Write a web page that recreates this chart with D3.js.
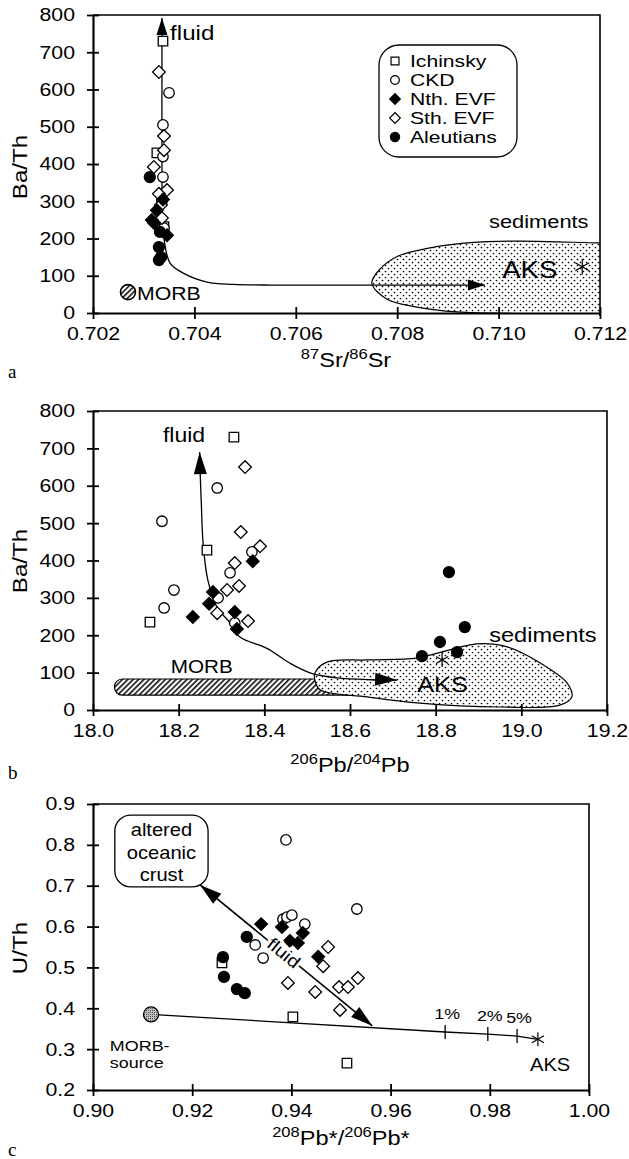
<!DOCTYPE html>
<html>
<head>
<meta charset="utf-8">
<script src="https://cdn.jsdelivr.net/npm/d3@7"></script>
<style>
  body { margin: 0; background: #fff; }
  svg text { font-family: "Liberation Sans", Arial, Helvetica, sans-serif; fill: #000; }
</style>
</head>
<body>
<svg id="chart"></svg>
<script>
// ---- panel a : Ba/Th vs 87Sr/86Sr ----
let aIchinsky = [[0.70338, 730], [0.70326, 430], [0.70340, 232]];
let aCKD = [[0.70350, 591], [0.70338, 505], [0.70338, 420], [0.70338, 365], [0.70336, 300], [0.70340, 228]];
let aSthEVF = [[0.70330, 647], [0.70340, 475], [0.70340, 437], [0.70320, 392], [0.70346, 330], [0.70330, 320], [0.70336, 255], [0.70334, 290]];
let aNthEVF = [[0.70316, 250], [0.70326, 276], [0.70346, 209], [0.70338, 305], [0.70320, 242]];
let aAleutians = [[0.70312, 365], [0.70330, 177], [0.70330, 142], [0.70334, 150], [0.70332, 218]];
let aMorb = [0.70269, 56];
let aAks = [0.71165, 124];
let aFluidCurve = [[0.70336, 792], [0.70336, 600], [0.70336, 400], [0.70337, 260], [0.70340, 200], [0.70352, 134],
    [0.70378, 107], [0.70425, 83], [0.70476, 77], [0.7055, 75], [0.7070, 75], [0.70973, 75]];
let aSediments = [[0.70750, 80], [0.70766, 118], [0.70802, 153], [0.70865, 175], [0.70944, 189], [0.71042, 193],
    [0.71200, 188], [0.71280, 186], [0.71280, -5], [0.71200, -3], [0.70918, 3], [0.70839, 16], [0.70780, 37]];
let aXTicks = [0.702, 0.704, 0.706, 0.708, 0.710, 0.712];
let aYTicks = [0, 100, 200, 300, 400, 500, 600, 700, 800];

// ---- panel b : Ba/Th vs 206Pb/204Pb ----
let bIchinsky = [[18.329, 730], [18.266, 428], [18.133, 235]];
let bCKD = [[18.161, 505], [18.290, 594], [18.189, 321], [18.166, 273], [18.320, 367], [18.292, 300], [18.331, 233], [18.371, 423]];
let bSthEVF = [[18.355, 650], [18.345, 476], [18.390, 438], [18.331, 393], [18.313, 321], [18.341, 332], [18.290, 259], [18.362, 238]];
let bNthEVF = [[18.233, 249], [18.280, 316], [18.271, 284], [18.331, 262], [18.336, 217], [18.373, 398]];
let bAleutians = [[18.831, 369], [18.868, 222], [18.810, 182], [18.768, 144], [18.850, 155]];
let bAks = [18.815, 134];
let bMorbBar = [[18.05, 40], [18.62, 83]];
let bFluidCurve = [[18.249, 690], [18.250, 640], [18.253, 550], [18.257, 447], [18.268, 348], [18.289, 276], [18.320, 233],
    [18.343, 195], [18.406, 165], [18.460, 125], [18.510, 98], [18.570, 86], [18.650, 81], [18.710, 80]];
let bSediments = [[18.518, 99], [18.546, 128], [18.640, 134], [18.756, 139], [18.833, 161], [18.896, 177], [18.967, 169],
    [19.044, 126], [19.107, 72], [19.118, 35], [19.090, 13], [18.950, 8], [18.756, 19], [18.640, 35], [18.530, 54], [18.518, 80]];
let bXTicks = [18.0, 18.2, 18.4, 18.6, 18.8, 19.0, 19.2];
let bYTicks = [0, 100, 200, 300, 400, 500, 600, 700, 800];

// ---- panel c : U/Th vs 208Pb*/206Pb* ----
let cIchinsky = [[0.9403, 0.379], [0.9512, 0.266], [0.9260, 0.511]];
let cCKD = [[0.9389, 0.812], [0.9532, 0.643], [0.9383, 0.618], [0.9391, 0.623], [0.9401, 0.628], [0.9427, 0.606], [0.9327, 0.555], [0.9343, 0.523]];
let cSthEVF = [[0.9474, 0.550], [0.9464, 0.503], [0.9393, 0.462], [0.9448, 0.440], [0.9496, 0.452], [0.9514, 0.452], [0.9534, 0.474], [0.9498, 0.396]];
let cNthEVF = [[0.9339, 0.606], [0.9381, 0.599], [0.9397, 0.565], [0.9413, 0.560], [0.9423, 0.584], [0.9454, 0.526]];
let cAleutians = [[0.9262, 0.525], [0.9264, 0.477], [0.9290, 0.447], [0.9306, 0.437], [0.9310, 0.575]];
let cMorbSource = [0.9117, 0.385];
let cMixLine = [[0.9117, 0.385], [0.9710, 0.342], [0.9796, 0.337], [0.9855, 0.332], [0.9897, 0.324]];
let cMixTicks = [[0.9710, 0.342], [0.9796, 0.337], [0.9855, 0.332]];
let cMixLabels = ["1%", "2%", "5%"];
let cAks = [0.9897, 0.324];
let cFluidArrow = [[0.9216, 0.702], [0.9563, 0.357]];
let cCrustBox = [[0.9044, 0.873], [0.9232, 0.697]];
let cXTicks = [0.90, 0.92, 0.94, 0.96, 0.98, 1.00];
let cYTicks = [0.2, 0.3, 0.4, 0.5, 0.6, 0.7, 0.8, 0.9];

let legendNames = ["Ichinsky", "CKD", "Nth. EVF", "Sth. EVF", "Aleutians"];
let legendKeys = ["ichinsky", "ckd", "nth", "sth", "aleut"];

const SX = 1.15; // the scanned lettering is wide

let svg = d3.select("#chart").attr("width", 629).attr("height", 1159);
svg.append("rect").attr("width", 629).attr("height", 1159).attr("fill", "#fff");
let defs = svg.append("defs");

let dots = defs.append("pattern").attr("id", "dots").attr("patternUnits", "userSpaceOnUse")
    .attr("width", 6).attr("height", 6);
dots.append("rect").attr("width", 6).attr("height", 6).attr("fill", "#fff");
dots.append("circle").attr("cx", 1.5).attr("cy", 1.5).attr("r", 0.85).attr("fill", "#000");
dots.append("circle").attr("cx", 4.5).attr("cy", 4.5).attr("r", 0.85).attr("fill", "#000");

let hatch = defs.append("pattern").attr("id", "hatch").attr("patternUnits", "userSpaceOnUse")
    .attr("width", 3.8).attr("height", 3.8).attr("patternTransform", "rotate(45)");
hatch.append("rect").attr("width", 3.8).attr("height", 3.8).attr("fill", "#fff");
hatch.append("line").attr("x1", 0.8).attr("y1", 0).attr("x2", 0.8).attr("y2", 3.8)
    .attr("stroke", "#000").attr("stroke-width", 1.5);

let grain = defs.append("pattern").attr("id", "grain").attr("patternUnits", "userSpaceOnUse")
    .attr("width", 2).attr("height", 2);
grain.append("rect").attr("width", 2).attr("height", 2).attr("fill", "#bbb");
grain.append("rect").attr("width", 1).attr("height", 1).attr("fill", "#555");

const SYM = {
    ichinsky: {type: d3.symbolSquare, size: 90, fill: "#fff", rot: 0},
    ckd: {type: d3.symbolCircle, size: 86, fill: "#fff", rot: 0},
    nth: {type: d3.symbolSquare, size: 80, fill: "#000", rot: 45},
    sth: {type: d3.symbolSquare, size: 80, fill: "#fff", rot: 45},
    aleut: {type: d3.symbolCircle, size: 95, fill: "#000", rot: 0},
};

function txt(g, x, y, s, size, anchor, rot, sx) {
    return g.append("text")
        .attr("transform", `translate(${x},${y})` + (rot ? ` rotate(${rot})` : "") + ` scale(${sx || SX},1)`)
        .attr("font-size", size)
        .attr("text-anchor", anchor || "start")
        .text(s);
}

// parts: [string, isSuperscript]
function supTxt(g, x, y, parts, size, anchor, rot) {
    let t = g.append("text")
        .attr("transform", `translate(${x},${y})` + (rot ? ` rotate(${rot})` : "") + ` scale(${SX},1)`)
        .attr("font-size", size)
        .attr("text-anchor", anchor || "middle");
    let up = false;
    parts.forEach(p => {
        let sp = t.append("tspan").text(p[0]);
        if (p[1] && !up) { sp.attr("font-size", size * 0.7).attr("dy", -size * 0.38); up = true; }
        else if (p[1]) { sp.attr("font-size", size * 0.7); }
        else if (up) { sp.attr("dy", size * 0.38); up = false; }
    });
    return t;
}

function makePanel(id, xDomain, xRange, yDomain, yRange) {
    let x = d3.scaleLinear().domain(xDomain).range(xRange);
    let y = d3.scaleLinear().domain(yDomain).range(yRange);
    defs.append("clipPath").attr("id", id + "-clip").append("rect")
        .attr("x", xRange[0]).attr("y", yRange[1])
        .attr("width", xRange[1] - xRange[0]).attr("height", yRange[0] - yRange[1]);
    let g = svg.append("g").attr("id", id);
    return {x: x, y: y, g: g, clip: `url(#${id}-clip)`};
}

function drawAxes(p, xTicks, xFmt, yTicks, yFmt) {
    let x0 = p.x.range()[0], x1 = p.x.range()[1];
    let y0 = p.y.range()[0], y1 = p.y.range()[1];

    p.g.append("path").attr("d", `M${x0},${y1}H${x1}V${y0 + 3}`)
        .attr("fill", "none").attr("stroke", "#000").attr("stroke-width", 1.6);

    let xAxis = p.g.append("g").attr("transform", `translate(0,${y0})`)
        .call(d3.axisBottom(p.x).tickValues(xTicks).tickFormat(d3.format(xFmt))
            .tickSizeOuter(0).tickSizeInner(6).tickPadding(8));
    let yAxis = p.g.append("g").attr("transform", `translate(${x0},0)`)
        .call(d3.axisLeft(p.y).tickValues(yTicks).tickFormat(d3.format(yFmt))
            .tickSizeOuter(0).tickSizeInner(6).tickPadding(12));

    [xAxis, yAxis].forEach(a => {
        a.attr("font-size", 18.5).attr("font-family", null);
        a.select(".domain").attr("stroke-width", 2.2);
        a.selectAll(".tick line").attr("stroke-width", 1.8);
    });
    xAxis.selectAll(".tick line").attr("y1", -6).attr("y2", 6);
    xAxis.selectAll(".tick text").attr("transform", `scale(${SX},1)`);
    yAxis.selectAll(".tick line").attr("x1", 6).attr("x2", -6);
    yAxis.selectAll(".tick text").attr("x", -18 / SX).attr("transform", `scale(${SX},1)`);
}

function drawSeries(p, pts, key) {
    let s = SYM[key];
    p.g.append("g").selectAll("path").data(pts).join("path")
        .attr("d", d3.symbol().type(s.type).size(s.size))
        .attr("transform", d => `translate(${p.x(d[0])},${p.y(d[1])}) rotate(${s.rot})`)
        .attr("fill", s.fill).attr("stroke", "#000").attr("stroke-width", 1.3);
}

function arrowHead(g, tip, from, len, half) {
    let dx = tip[0] - from[0], dy = tip[1] - from[1];
    let d = Math.hypot(dx, dy), ux = dx / d, uy = dy / d;
    let bx = tip[0] - ux * len, by = tip[1] - uy * len;
    g.append("path")
        .attr("d", `M${tip[0]},${tip[1]}L${bx - uy * half},${by + ux * half}L${bx + uy * half},${by - ux * half}Z`)
        .attr("fill", "#000");
}

function asterisk(g, cx, cy, r) {
    [90, 30, 150].forEach(a => {
        let rad = a * Math.PI / 180;
        g.append("line")
            .attr("x1", cx - r * Math.cos(rad)).attr("y1", cy - r * Math.sin(rad))
            .attr("x2", cx + r * Math.cos(rad)).attr("y2", cy + r * Math.sin(rad))
            .attr("stroke", "#000").attr("stroke-width", 1.2);
    });
}

function curveArrow(p, pts, headAtStart, headAtEnd, len, half) {
    let px = pts.map(d => [p.x(d[0]), p.y(d[1])]);
    p.g.append("path").attr("d", d3.line().curve(d3.curveCatmullRom)(px))
        .attr("fill", "none").attr("stroke", "#000").attr("stroke-width", 1.3);
    if (headAtStart) arrowHead(p.g, px[0], px[2] || px[1], len, half);
    if (headAtEnd) arrowHead(p.g, px[px.length - 1], px[px.length - 3] || px[px.length - 2], len, half);
}

function allSeries(p, ich, ckd, sth, nth, ale) {
    drawSeries(p, ich, "ichinsky");
    drawSeries(p, ckd, "ckd");
    drawSeries(p, sth, "sth");
    drawSeries(p, nth, "nth");
    drawSeries(p, ale, "aleut");
}

// ================= panel a =================
let pa = makePanel("pa", [0.702, 0.712], [93, 600], [0, 800], [313, 15]);

pa.g.append("path")
    .attr("d", d3.line().x(d => pa.x(d[0])).y(d => pa.y(d[1])).curve(d3.curveCatmullRomClosed)(aSediments))
    .attr("clip-path", pa.clip)
    .attr("fill", "url(#dots)").attr("stroke", "#000").attr("stroke-width", 1.2);

curveArrow(pa, aFluidCurve, true, true, 17, 5.5);
allSeries(pa, aIchinsky, aCKD, aSthEVF, aNthEVF, aAleutians);

pa.g.append("circle").attr("cx", pa.x(aMorb[0])).attr("cy", pa.y(aMorb[1])).attr("r", 7.5)
    .attr("fill", "url(#hatch)").attr("stroke", "#000").attr("stroke-width", 1.6);
txt(pa.g, pa.x(aMorb[0]) + 9, pa.y(aMorb[1]) + 8, "MORB", 18.5);

asterisk(pa.g, pa.x(aAks[0]), pa.y(aAks[1]), 8);
txt(pa.g, pa.x(0.71007), pa.y(94), "AKS", 24);
txt(pa.g, pa.x(0.70981), pa.y(228), "sediments", 19);
txt(pa.g, pa.x(0.70352), pa.y(733), "fluid", 21);

drawAxes(pa, aXTicks, ".3f", aYTicks, "d");

// legend
let lg = pa.g.append("g");
lg.append("rect").attr("x", 379).attr("y", 45).attr("width", 138).attr("height", 112).attr("rx", 20)
    .attr("fill", "#fff").attr("stroke", "#000").attr("stroke-width", 1.3);
legendKeys.forEach((k, i) => {
    let s = SYM[k];
    let yy = 61 + i * 19;
    lg.append("path").attr("d", d3.symbol().type(s.type).size(s.size * 0.7))
        .attr("transform", `translate(395,${yy}) rotate(${s.rot})`)
        .attr("fill", s.fill).attr("stroke", "#000").attr("stroke-width", 1.2);
    txt(lg, 410, yy + 6, legendNames[i], 16.5, "start", 0, 1.28);
});

txt(svg, 27, 167, "Ba/Th", 21, "middle", -90);
supTxt(svg, 346, 367, [["87", true], ["Sr/", false], ["86", true], ["Sr", false]], 20.5);
svg.append("text").attr("x", 8).attr("y", 378).attr("font-size", 19)
    .style("font-family", "'Liberation Serif', serif").text("a");

// ================= panel b =================
let pb = makePanel("pb", [18.0, 19.2], [93, 607], [0, 800], [710, 411]);

pb.g.append("rect")
    .attr("x", pb.x(bMorbBar[0][0])).attr("y", pb.y(bMorbBar[1][1]))
    .attr("width", pb.x(bMorbBar[1][0]) - pb.x(bMorbBar[0][0]))
    .attr("height", pb.y(bMorbBar[0][1]) - pb.y(bMorbBar[1][1]))
    .attr("rx", 8).attr("fill", "url(#hatch)").attr("stroke", "#000").attr("stroke-width", 1.2);

pb.g.append("path")
    .attr("d", d3.line().x(d => pb.x(d[0])).y(d => pb.y(d[1])).curve(d3.curveCatmullRomClosed)(bSediments))
    .attr("fill", "url(#dots)").attr("stroke", "#000").attr("stroke-width", 1.2);

curveArrow(pb, bFluidCurve, true, true, 22, 6.5);
allSeries(pb, bIchinsky, bCKD, bSthEVF, bNthEVF, bAleutians);

asterisk(pb.g, pb.x(bAks[0]), pb.y(bAks[1]), 7);
txt(pb.g, pb.x(18.757), pb.y(48), "AKS", 22);
txt(pb.g, pb.x(18.925), pb.y(182), "sediments", 20.5);
txt(pb.g, pb.x(18.254), pb.y(99), "MORB", 18, "middle");
txt(pb.g, pb.x(18.2125), pb.y(717), "fluid", 20, "middle");

drawAxes(pb, bXTicks, ".1f", bYTicks, "d");

txt(svg, 27, 561, "Ba/Th", 21, "middle", -90);
supTxt(svg, 350, 772, [["206", true], ["Pb/", false], ["204", true], ["Pb", false]], 20.5);
svg.append("text").attr("x", 8).attr("y", 779).attr("font-size", 19)
    .style("font-family", "'Liberation Serif', serif").text("b");

// ================= panel c =================
let pc = makePanel("pc", [0.90, 1.00], [93, 589], [0.2, 0.9], [1090, 804]);

// altered oceanic crust box
let bx0 = pc.x(cCrustBox[0][0]), bx1 = pc.x(cCrustBox[1][0]);
let by0 = pc.y(cCrustBox[0][1]), by1 = pc.y(cCrustBox[1][1]);
pc.g.append("rect").attr("x", bx0).attr("y", by0).attr("width", bx1 - bx0).attr("height", by1 - by0)
    .attr("rx", 16).attr("fill", "#fff").attr("stroke", "#000").attr("stroke-width", 1.3);
["altered", "oceanic", "crust"].forEach((s, i) => {
    txt(pc.g, (bx0 + bx1) / 2, by0 + 21 + i * 22.5, s, 17.5, "middle");
});

// mixing line MORB-source -> AKS
pc.g.append("path").attr("d", d3.line().x(d => pc.x(d[0])).y(d => pc.y(d[1]))(cMixLine))
    .attr("fill", "none").attr("stroke", "#000").attr("stroke-width", 1.3);
cMixTicks.forEach((d, i) => {
    pc.g.append("line").attr("x1", pc.x(d[0])).attr("x2", pc.x(d[0]))
        .attr("y1", pc.y(d[1]) - 7).attr("y2", pc.y(d[1]) + 7)
        .attr("stroke", "#000").attr("stroke-width", 1.3);
    txt(pc.g, pc.x(d[0]) + 2, pc.y(d[1]) - 13, cMixLabels[i], 15.5, "middle");
});

// fluid double arrow
let fa = cFluidArrow.map(d => [pc.x(d[0]), pc.y(d[1])]);
pc.g.append("line").attr("x1", fa[0][0]).attr("y1", fa[0][1]).attr("x2", fa[1][0]).attr("y2", fa[1][1])
    .attr("stroke", "#000").attr("stroke-width", 1.6);
arrowHead(pc.g, fa[0], fa[1], 22, 6.5);
arrowHead(pc.g, fa[1], fa[0], 22, 6.5);

allSeries(pc, cIchinsky, cCKD, cSthEVF, cNthEVF, cAleutians);

let ang = Math.atan2(fa[1][1] - fa[0][1], fa[1][0] - fa[0][0]) * 180 / Math.PI;
let fx = fa[0][0] + (fa[1][0] - fa[0][0]) * 0.485, fy = fa[0][1] + (fa[1][1] - fa[0][1]) * 0.485;
txt(pc.g, fx, fy, "fluid", 17.5, "middle", ang)
    .attr("dy", "0.33em")
    .attr("stroke", "#fff").attr("stroke-width", 5).style("paint-order", "stroke");

pc.g.append("circle").attr("cx", pc.x(cMorbSource[0])).attr("cy", pc.y(cMorbSource[1])).attr("r", 7.5)
    .attr("fill", "url(#grain)").attr("stroke", "#000").attr("stroke-width", 1.3);
txt(pc.g, pc.x(0.9034), pc.y(0.2945), "MORB-", 14, "start", 0, 1.28);
txt(pc.g, pc.x(0.9034), pc.y(0.2540), "source", 14, "start", 0, 1.28);

asterisk(pc.g, pc.x(cAks[0]), pc.y(cAks[1]), 7);
txt(pc.g, pc.x(0.9881), pc.y(0.2465), "AKS", 17.5);

drawAxes(pc, cXTicks, ".2f", cYTicks, ".1f");

txt(svg, 27, 948, "U/Th", 21, "middle", -90);
supTxt(svg, 341, 1145, [["208", true], ["Pb*/", false], ["206", true], ["Pb*", false]], 20.5);
svg.append("text").attr("x", 8).attr("y", 1156).attr("font-size", 19)
    .style("font-family", "'Liberation Serif', serif").text("c");
</script>
</body>
</html>
